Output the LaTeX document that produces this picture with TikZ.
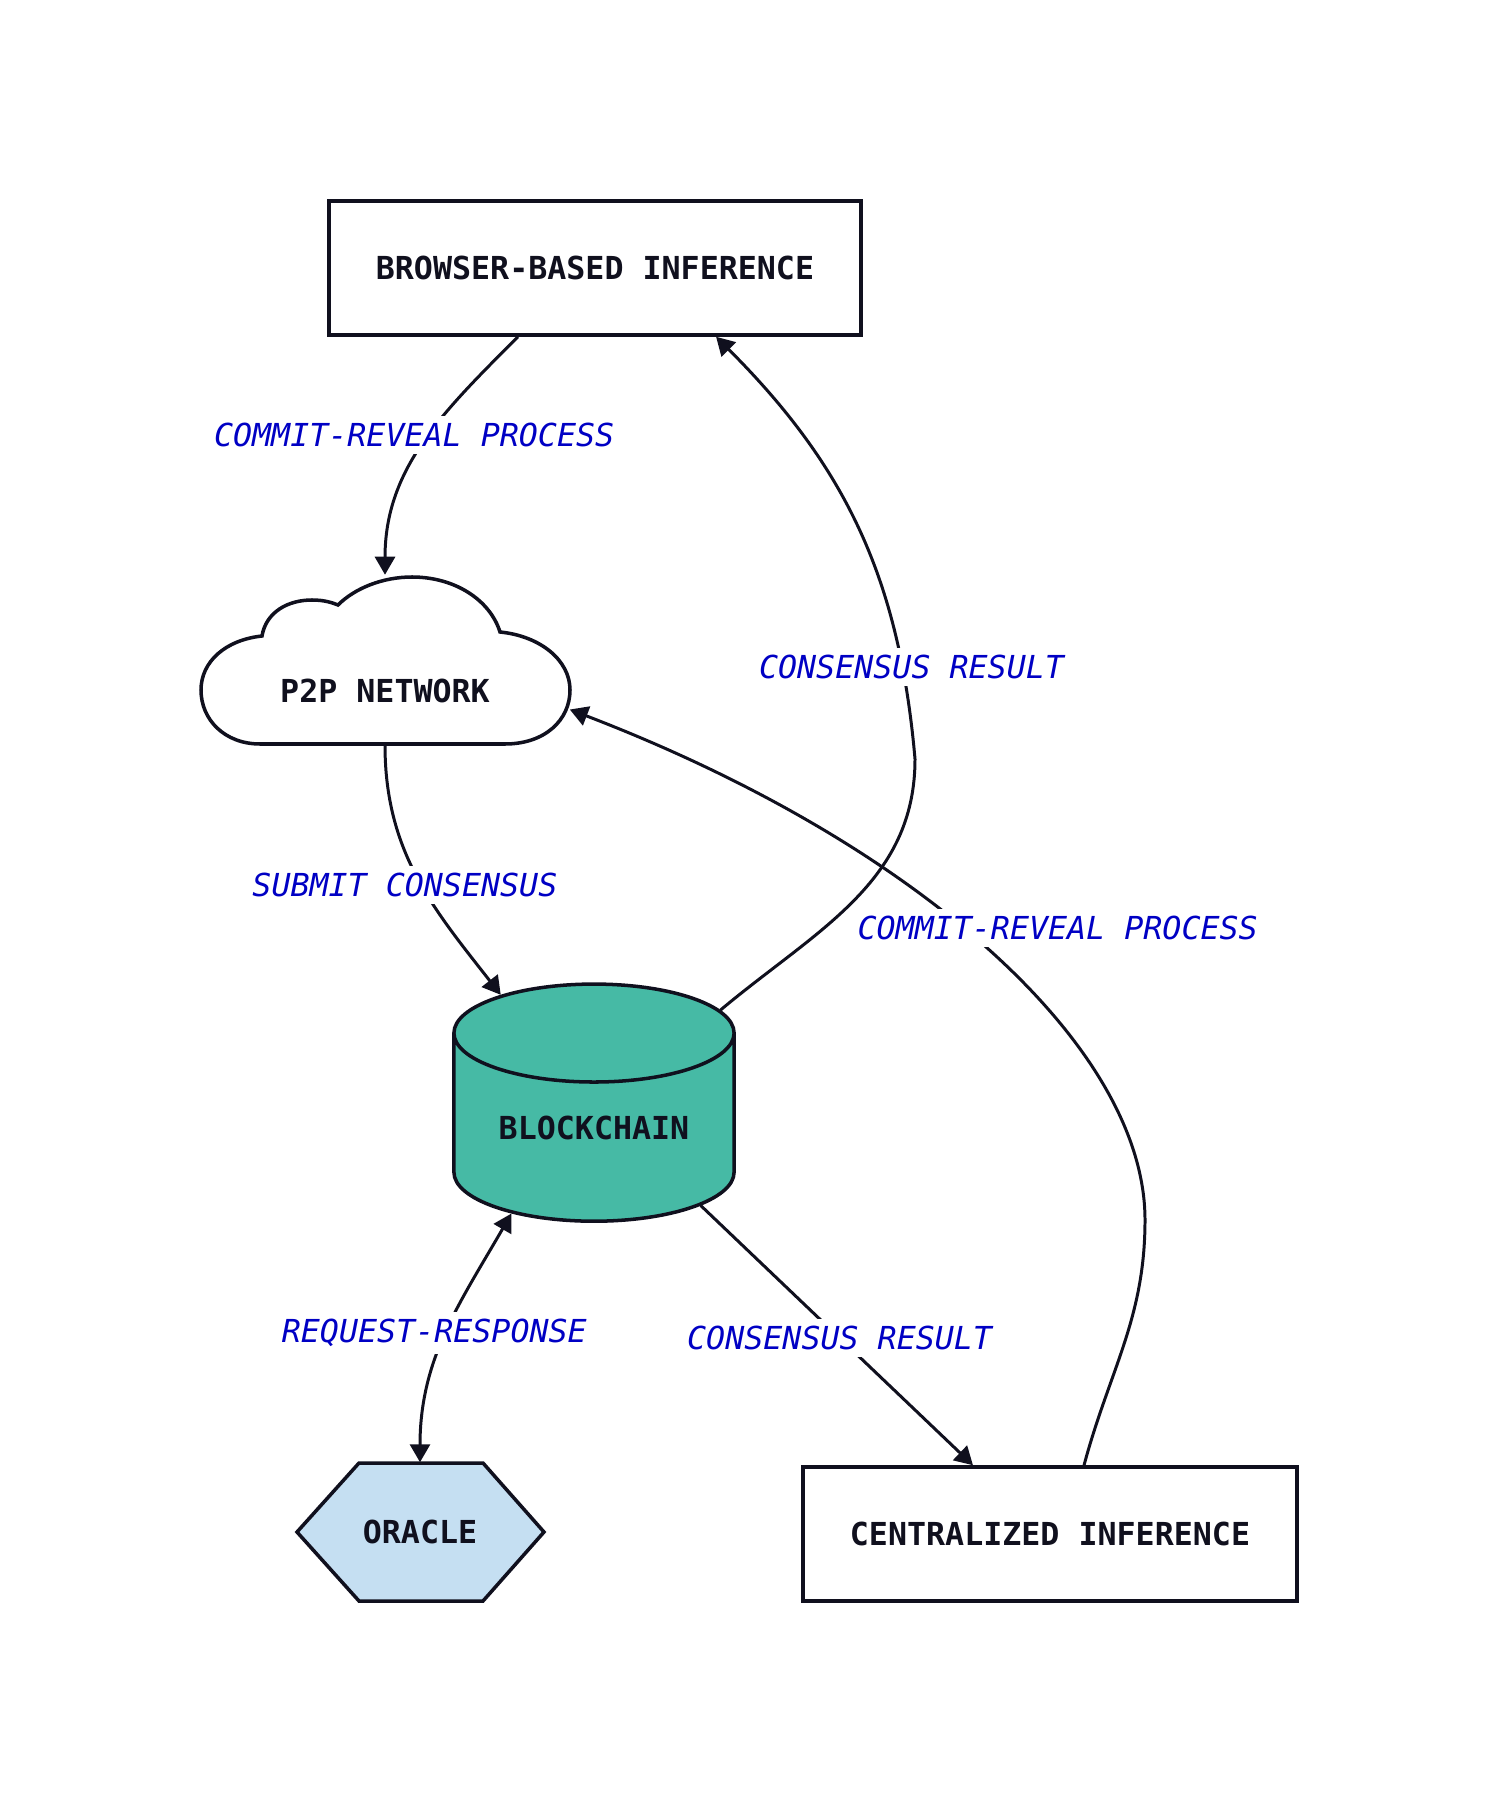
\documentclass[tikz,border=0pt]{standalone}
\usepackage{fontspec}
\setmonofont{DejaVu Sans Mono}
\usepackage{tikz}
\usetikzlibrary{positioning}
\usetikzlibrary{shapes.geometric}
\usetikzlibrary{arrows.meta}

\definecolor{ink}{HTML}{10101E}
\definecolor{chainfill}{HTML}{46BAA5}
\definecolor{oraclefill}{HTML}{C5DFF2}
\definecolor{labelblue}{HTML}{0000C4}

\begin{document}
\begin{tikzpicture}[
        x = 0.01cm, y = 0.01cm,
        >= {Triangle[length=0.18cm, width=0.2cm]},
        txt/.style = {
            text = ink,
            inner sep = 0pt,
            font = \ttfamily\bfseries\fontsize{9}{11}\selectfont
        },
        box/.style = {
            txt,
            draw = ink,
            line width = 1pt,
            rectangle,
            minimum width = #1,
            minimum height = 1.34cm
        },
        box/.default = 5.32cm,
        lbl/.style = {
            fill = white,
            text = labelblue,
            inner sep = 2pt,
            font = \ttfamily\itshape\fontsize{9}{11}\selectfont
        },
        link/.style = {draw = ink, line width = 0.85pt, ->}
        ]
%
        \useasboundingbox (0,0) rectangle (1498,-1804);
%
        \node[box] (browser) at (595,-268) {BROWSER-BASED INFERENCE};
%
        \draw[ink, line width=1pt, fill=white] (260,-744)
            .. controls (225,-744) and (201,-720) .. (201,-690)
            .. controls (201,-662) and (225,-640) .. (262,-636)
            .. controls (266,-612) and (288,-600) .. (312,-600)
            .. controls (325,-600) and (333,-603) .. (338,-605)
            .. controls (355,-588) and (383,-577) .. (412,-577)
            .. controls (455,-577) and (490,-600) .. (500,-632)
            .. controls (540,-636) and (570,-660) .. (570,-690)
            .. controls (570,-720) and (545,-744) .. (505,-744) -- cycle;
        \node[txt, minimum width=3.68cm, minimum height=1.69cm,
              text height=0.85cm, text depth=0cm] (cloud) at (385,-660) {P2P NETWORK};
%
        \node[txt, cylinder, shape border rotate=90, aspect=0.514,
              draw=ink, fill=chainfill, line width=1pt,
              minimum width=2.80cm, minimum height=2.37cm] (chain) at (594,-1128) {BLOCKCHAIN};
%
        \draw[ink, line width=1pt, fill=oraclefill] (297,-1532) -- (359,-1463) -- (483,-1463)
            -- (544,-1532) -- (483,-1601) -- (359,-1601) -- cycle;
        \node[txt, minimum width=2.47cm, minimum height=1.38cm] (oracle) at (420,-1532) {ORACLE};
%
        \node[box=4.94cm] (central) at (1050,-1534) {CENTRALIZED INFERENCE};
%
%
        \draw[link] ([xshift=-0.77cm]browser.south) to[out=-135, in=90]
            node[lbl, pos=0.46, xshift=-0.15cm]{COMMIT-REVEAL PROCESS} (cloud.north);
        \draw[link] (cloud.south) to[out=-90, in=128]
            node[lbl, pos=0.53, xshift=-0.17cm]{SUBMIT CONSENSUS} (chain.125);
        \draw[link] (chain.43) to[out=40, in=-90] (915,-759) to[out=95, in=-45]
            node[lbl, pos=0.18, xshift=0.09cm]{CONSENSUS RESULT} ([xshift=1.21cm]browser.south);
        \draw[link] ([xshift=0.34cm]central.north) to[out=75, in=-90] (1145,-1220)
            to[out=90, in=-21, out distance=1.7cm, in distance=3.8cm]
            node[lbl, pos=0.545, xshift=0.95cm]{COMMIT-REVEAL PROCESS} (cloud.-15);
        \draw[link] (chain.-36) -- node[lbl, pos=0.51]{CONSENSUS RESULT} ([xshift=-0.77cm]central.north);
        \draw[link, <->] (chain.226) to[out=-120, in=90]
            node[lbl, xshift=-0.12cm]{REQUEST-RESPONSE} (oracle.north);
\end{tikzpicture}
\end{document}
